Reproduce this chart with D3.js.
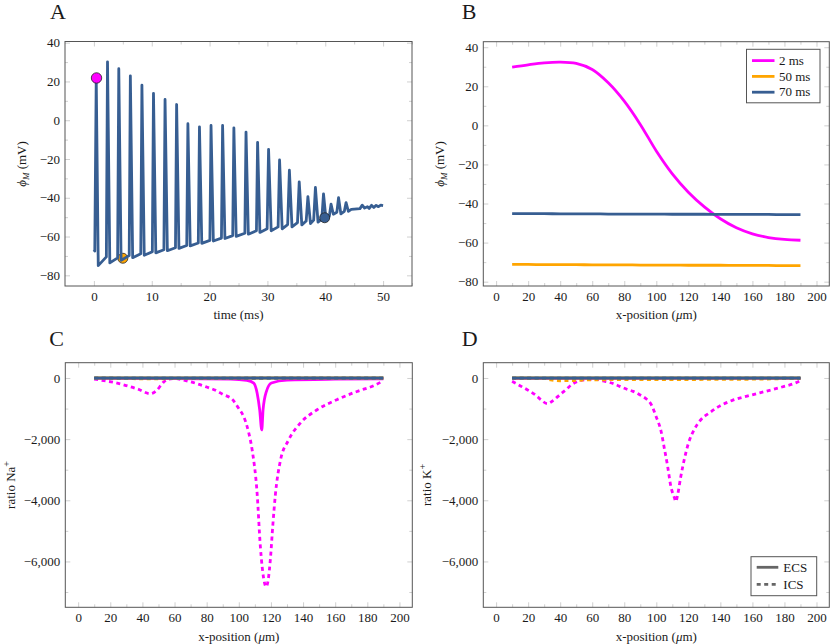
<!DOCTYPE html>
<html>
<head>
<meta charset="utf-8">
<script src="https://cdn.jsdelivr.net/npm/d3@7"></script>
<style>
body { margin: 0; background: #fff; }
svg text { font-family: "Liberation Serif", "DejaVu Serif", serif; fill: #1a1a1a; }
</style>
</head>
<body>
<svg id="fig" width="831" height="644"></svg>
<script>
// ---- panel A: membrane potential trace over time ----
var traceT = [0, 0.15, 0.4, 0.75, 2.15, 2.35, 2.75, 4.1, 4.3, 4.7, 6.1, 6.3, 6.7, 8.1, 8.3, 8.7,
    10.1, 10.3, 10.7, 12.1, 12.3, 12.7, 14.1, 14.3, 14.7, 16.05, 16.25, 16.65, 18.05, 18.25, 18.65,
    20.05, 20.25, 20.65, 22.05, 22.25, 22.65, 24.0, 24.2, 24.6, 26.1, 26.3, 26.7, 28.1, 28.3, 28.7,
    29.95, 30.2, 30.65, 31.85, 32.1, 32.55, 33.5, 33.8, 34.25, 35.2, 35.5, 35.95, 36.7, 37.0, 37.45,
    38.0, 38.3, 38.75, 39.4, 39.7, 40.15, 40.7, 41.0, 41.4, 42.0, 42.3, 42.7, 43.3, 43.6, 44.0,
    44.5, 46.0, 46.4, 46.8, 47.3, 47.6, 48.0, 48.4, 48.8, 49.2, 49.6, 50.0];
var traceV = [-66.8, -67.5, 21.5, -75.0, -70.5, 30.1, -73.6, -71.0, 26.6, -72.3, -69.8, 22.9, -70.9, -68.9, 18.1, -69.7,
    -67.8, 13.9, -68.4, -66.8, 10.7, -67.3, -65.8, 8.1, -66.1, -64.6, -1.8, -64.8, -63.3, -3.4, -63.5,
    -62.0, -2.7, -62.3, -60.8, -2.7, -61.0, -59.5, -3.9, -59.9, -58.3, -6.1, -58.8, -57.0, -11.4, -57.9,
    -56.0, -15.0, -57.0, -55.0, -20.5, -56.0, -53.8, -25.8, -55.0, -52.8, -31.8, -54.0, -52.0, -39.4, -53.3,
    -51.5, -34.7, -52.6, -51.0, -38.0, -51.8, -49.5, -43.3, -48.5, -47.5, -39.9, -48.3, -47.0, -42.5, -47.0,
    -46.0, -45.6, -43.8, -45.3, -44.6, -45.5, -43.9, -45.0, -43.9, -44.6, -43.8, -44.0];
var markerT = [0.45, 5.0, 39.9];
var markerV = [21.8, -71.2, -50.3];

// ---- panel B: potential along x ----
var posX = [10, 20, 30, 40, 50, 60, 70, 80, 90, 100, 110, 120, 130, 140, 150, 160, 170, 180, 190];
var phi2 = [29.8, 31.0, 32.0, 32.4, 31.7, 28.6, 21.8, 12.4, 0.5, -13.1, -24.8, -34.2, -41.7, -47.8, -52.4, -55.5, -57.4, -58.4, -58.8];
var phi50 = [-71.2, -71.2, -71.3, -71.3, -71.3, -71.4, -71.4, -71.4, -71.5, -71.5, -71.5, -71.6, -71.6, -71.6, -71.7, -71.7, -71.7, -71.8, -71.8];
var phi70 = [-45.2, -45.2, -45.2, -45.3, -45.3, -45.3, -45.4, -45.4, -45.4, -45.4, -45.5, -45.5, -45.5, -45.6, -45.6, -45.6, -45.6, -45.7, -45.7];

// ---- panel C: Na+ ratio ----
var naEcs2X = [10, 60, 95, 105, 109.3, 111.4, 113, 114.3, 115.1, 117.2, 120.3, 130, 160, 190];
var naEcs2 = [-15, -20, -35, -80, -164, -490, -1040, -1700, -1040, -437, -164, -70, -40, -30];
var naIcs2X = [10, 16, 22, 30, 37, 45, 49, 53, 56.5, 60.5, 67, 74, 80, 85.5, 90.5, 96, 100, 103, 106, 108.3,
    111.4, 113.4, 116, 117, 118.3, 119.7, 121.2, 122.8, 125.9, 131, 138.3, 148.7, 161, 173.6, 184, 190];
var naIcs2 = [-33, -87, -142, -250, -360, -514, -400, -142, -33, -20, -87, -186, -295, -404, -546, -700, -1000, -1260, -1750, -2350,
    -3770, -5500, -6700, -6830, -6600, -5900, -4800, -3800, -2700, -2030, -1475, -1040, -710, -440, -250, -90];
var naIcs50X = [10, 30, 40, 50, 60, 100, 150, 190];
var naIcs50 = [-5, -15, -30, -30, -20, -10, -5, -2];
var flatX = [10, 190];
var naEcs50 = [0, 0];
var naEcs70 = [0, 0];
var naIcs70 = [-2, -2];

// ---- panel D: K+ ratio ----
var kIcs2X = [10, 14.9, 20.1, 24.3, 28, 32, 35.7, 39.8, 43.6, 47.1, 51.2, 56, 61.6, 66.8, 72, 77.2, 81.3, 85.5, 89.6, 93.8,
    96.9, 99.8, 103, 105, 107.1, 109.1, 111.2, 112.2, 113.3, 115.3, 117.4, 120.1, 123.6, 127.8, 133, 139.2, 147.5, 157.8, 168.2, 178.5,
    186.8, 190];
var kIcs2 = [-109, -251, -404, -546, -710, -842, -732, -546, -383, -219, -109, -55, -33, -98, -164, -273, -361, -437, -546, -689,
    -874, -1250, -1749, -2295, -2896, -3552, -3900, -4040, -3825, -3224, -2678, -2131, -1694, -1366, -1148, -929, -732, -579, -437, -295,
    -164, -87];
var kIcs50X = [10, 30, 34, 40, 50, 60, 80, 120, 160, 190];
var kIcs50 = [-5, -15, -60, -90, -80, -60, -55, -50, -40, -10];
var kEcs2 = [-10, -10];
var kEcs50 = [0, 0];
var kEcs70 = [0, 0];
var kIcs70 = [-3, -3];

var timeLabels = ["2 ms", "50 ms", "70 ms"];
var regionLabels = ["ECS", "ICS"];

var colMag = "#ff00ff", colOra = "#ffa500", colBlu = "#375e92";
var lw = 2.8;
var dash = "4,3.5";

var svg = d3.select("#fig");

function enlarge(lo, hi) {
    var r = hi - lo;
    return [lo - 0.1 * r, hi + 0.1 * r];
}

function makePanel(p) {
    var g = svg.append("g");
    var x = d3.scaleLinear().domain(p.xDomain).range([p.left, p.right]);
    var y = d3.scaleLinear().domain(p.yDomain).range([p.bottom, p.top]);

    function ticks(axis, trans, vals, size, fmt, pad) {
        var a = g.append("g")
            .attr("transform", trans)
            .call(axis.tickValues(vals).tickSize(-size).tickPadding(pad || 0).tickFormat(fmt));
        a.select(".domain").remove();
        a.selectAll("line").attr("stroke", "#c4c4c4").attr("stroke-width", 0.8);
        a.selectAll("text").attr("font-size", 13).attr("fill", "#1a1a1a");
        return a;
    }
    var none = function() { return ""; };
    var fmt = p.yFormat || d3.format("");
    // minor ticks
    ticks(d3.axisLeft(y), "translate(" + p.left + ",0)", p.yMinor, 3, none);
    ticks(d3.axisRight(y), "translate(" + p.right + ",0)", p.yMinor, 3, none);
    ticks(d3.axisBottom(x), "translate(0," + p.bottom + ")", p.xMinor, 3, none);
    ticks(d3.axisTop(x), "translate(0," + p.top + ")", p.xMinor, 3, none);
    // major ticks
    ticks(d3.axisLeft(y), "translate(" + p.left + ",0)", p.yMajor, 5, fmt, 5);
    ticks(d3.axisRight(y), "translate(" + p.right + ",0)", p.yMajor, 5, none);
    ticks(d3.axisBottom(x), "translate(0," + p.bottom + ")", p.xMajor, 5, d3.format(""), 5.5);
    ticks(d3.axisTop(x), "translate(0," + p.top + ")", p.xMajor, 5, none);

    g.append("rect")
        .attr("x", p.left).attr("y", p.top)
        .attr("width", p.right - p.left).attr("height", p.bottom - p.top)
        .attr("fill", "none").attr("stroke", "#555").attr("stroke-width", 1);

    g.append("text").attr("x", p.letterX).attr("y", p.letterY)
        .attr("font-size", 22).text(p.letter);

    return {g: g, x: x, y: y};
}

function addLine(panel, xs, ys, color, dashed, curve) {
    var line = d3.line()
        .x(function(d) { return panel.x(d[0]); })
        .y(function(d) { return panel.y(d[1]); })
        .curve(curve || d3.curveMonotoneX);
    panel.g.append("path")
        .datum(d3.zip(xs, ys))
        .attr("fill", "none")
        .attr("stroke", color)
        .attr("stroke-width", lw)
        .attr("stroke-linejoin", "round")
        .attr("stroke-dasharray", dashed ? dash : null)
        .attr("d", line);
}

function xLabel(panel, cx, y) {
    var t = panel.g.append("text").attr("x", cx).attr("y", y)
        .attr("text-anchor", "middle").attr("font-size", 13);
    t.append("tspan").text("x-position (");
    t.append("tspan").attr("font-style", "italic").text("μ");
    t.append("tspan").text("m)");
}

function phiLabel(panel, bx, cy) {
    var t = panel.g.append("text")
        .attr("transform", "translate(" + bx + "," + cy + ") rotate(-90)")
        .attr("text-anchor", "middle").attr("font-size", 13);
    t.append("tspan").attr("font-style", "italic").text("ϕ");
    t.append("tspan").attr("font-style", "italic").attr("font-size", 9).attr("dy", 2.5).text("M");
    t.append("tspan").attr("dy", -2.5).text(" (mV)");
}

function ratioLabel(panel, bx, cy, ion) {
    var t = panel.g.append("text")
        .attr("transform", "translate(" + bx + "," + cy + ") rotate(-90)")
        .attr("text-anchor", "middle").attr("font-size", 13);
    t.append("tspan").text("ratio " + ion);
    t.append("tspan").attr("font-size", 10).attr("dy", -5).text("+");
}

var xPosMajor = d3.range(0, 201, 20), xPosMinor = d3.range(10, 200, 20);
var ratioFormat = d3.format(",");

// ---- A ----
var A = makePanel({
    left: 65, right: 412, top: 41.5, bottom: 286,
    xDomain: enlarge(d3.min(traceT), d3.max(traceT)),
    yDomain: enlarge(d3.min(traceV), d3.max(traceV)),
    xMajor: d3.range(0, 51, 10), xMinor: d3.range(5, 56, 10),
    yMajor: d3.range(-80, 41, 20), yMinor: d3.range(-70, 41, 20),
    letter: "A", letterX: 50, letterY: 18.5
});
A.g.append("circle").attr("cx", A.x(markerT[1])).attr("cy", A.y(markerV[1])).attr("r", 5)
    .attr("fill", colOra).attr("stroke", "#222").attr("stroke-width", 0.8);
addLine(A, traceT, traceV, colBlu, false, d3.curveLinear);
A.g.append("circle").attr("cx", A.x(markerT[0])).attr("cy", A.y(markerV[0])).attr("r", 5.2)
    .attr("fill", colMag).attr("stroke", "#222").attr("stroke-width", 0.8);
A.g.append("circle").attr("cx", A.x(markerT[2])).attr("cy", A.y(markerV[2])).attr("r", 5)
    .attr("fill", colBlu).attr("stroke", "#222").attr("stroke-width", 0.8);
A.g.append("text").attr("x", 238.5).attr("y", 319).attr("text-anchor", "middle")
    .attr("font-size", 13).text("time (ms)");
phiLabel(A, 26, 164);

// ---- B ----
var bAll = phi2.concat(phi50, phi70);
var B = makePanel({
    left: 483.3, right: 829.3, top: 41.7, bottom: 286,
    xDomain: enlarge(d3.min(posX), d3.max(posX)),
    yDomain: enlarge(d3.min(bAll), d3.max(bAll)),
    xMajor: xPosMajor, xMinor: xPosMinor,
    yMajor: d3.range(-80, 41, 20), yMinor: d3.range(-70, 41, 20),
    letter: "B", letterX: 461.7, letterY: 18.5
});
addLine(B, posX, phi2, colMag, false, d3.curveCatmullRom.alpha(0.5));
addLine(B, posX, phi50, colOra);
addLine(B, posX, phi70, colBlu);
xLabel(B, 656.3, 319);
phiLabel(B, 444, 164);

var legB = B.g.append("g").attr("transform", "translate(746.5,49.3)");
legB.append("rect").attr("width", 73.5).attr("height", 53.5)
    .attr("fill", "#fff").attr("stroke", "#555").attr("stroke-width", 1);
[colMag, colOra, colBlu].forEach(function(c, i) {
    var yy = 11.3 + i * 15.8;
    legB.append("line").attr("x1", 5.5).attr("x2", 28).attr("y1", yy).attr("y2", yy)
        .attr("stroke", c).attr("stroke-width", lw);
    legB.append("text").attr("x", 32.5).attr("y", yy + 4.3).attr("font-size", 13).text(timeLabels[i]);
});

// ---- C ----
var C = makePanel({
    left: 65.3, right: 412.3, top: 362.7, bottom: 607.3,
    xDomain: enlarge(d3.min(naIcs2X), d3.max(naIcs2X)),
    yDomain: [-7500, 500],
    xMajor: xPosMajor, xMinor: xPosMinor,
    yMajor: [-6000, -4000, -2000, 0], yMinor: [-7000, -5000, -3000, -1000],
    yFormat: ratioFormat,
    letter: "C", letterX: 49.3, letterY: 346
});
addLine(C, naEcs2X, naEcs2, colMag);
addLine(C, naIcs2X, naIcs2, colMag, true);
addLine(C, flatX, naEcs50, colOra);
addLine(C, naIcs50X, naIcs50, colOra, true);
addLine(C, flatX, naEcs70, colBlu);
addLine(C, flatX, naIcs70, colBlu, true);
xLabel(C, 238.8, 640.5);
ratioLabel(C, 15, 485, "Na");

// ---- D ----
var D = makePanel({
    left: 483.3, right: 829.3, top: 362.7, bottom: 607.3,
    xDomain: enlarge(d3.min(kIcs2X), d3.max(kIcs2X)),
    yDomain: [-7500, 500],
    xMajor: xPosMajor, xMinor: xPosMinor,
    yMajor: [-6000, -4000, -2000, 0], yMinor: [-7000, -5000, -3000, -1000],
    yFormat: ratioFormat,
    letter: "D", letterX: 461.7, letterY: 346
});
addLine(D, flatX, kEcs2, colMag);
addLine(D, kIcs2X, kIcs2, colMag, true);
addLine(D, flatX, kEcs50, colOra);
addLine(D, kIcs50X, kIcs50, colOra, true);
addLine(D, flatX, kEcs70, colBlu);
addLine(D, flatX, kIcs70, colBlu, true);
xLabel(D, 656.3, 640.5);
ratioLabel(D, 431, 485, "K");

var legD = D.g.append("g").attr("transform", "translate(751,556.7)");
legD.append("rect").attr("width", 65.7).attr("height", 39)
    .attr("fill", "#fff").attr("stroke", "#555").attr("stroke-width", 1);
regionLabels.forEach(function(lab, i) {
    var yy = 10.6 + i * 17;
    legD.append("line").attr("x1", 5.7).attr("x2", 27.3).attr("y1", yy).attr("y2", yy)
        .attr("stroke", "#666").attr("stroke-width", lw)
        .attr("stroke-dasharray", i === 1 ? dash : null);
    legD.append("text").attr("x", 32.3).attr("y", yy + 4.3).attr("font-size", 13).text(lab);
});
</script>
</body>
</html>
